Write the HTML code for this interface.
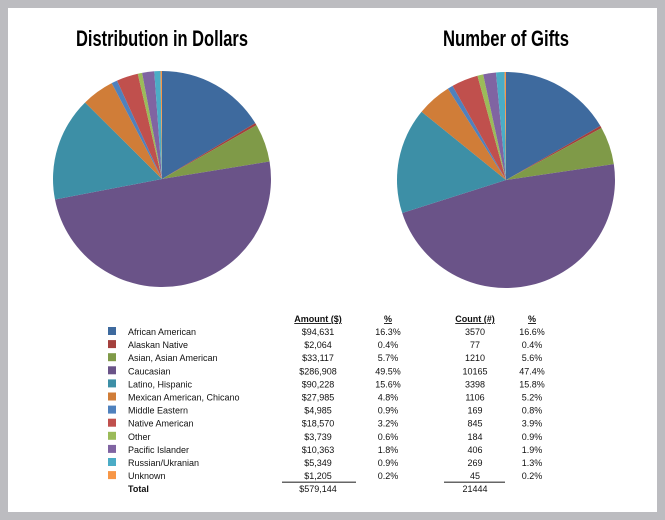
<!DOCTYPE html>
<html><head><meta charset="utf-8"><style>
body{margin:0;background:#bcbcc0;}
svg{display:block;font-family:"Liberation Sans",sans-serif;}
</style></head><body>
<svg width="665" height="520" viewBox="0 0 665 520">
<rect x="0" y="0" width="665" height="520" fill="#bcbcc0"/>
<rect x="8" y="8" width="649" height="504" fill="#ffffff"/>
<text x="162" y="46" text-anchor="middle" font-size="22" font-weight="bold" textLength="172" lengthAdjust="spacingAndGlyphs">Distribution in Dollars</text>
<text x="506" y="46" text-anchor="middle" font-size="22" font-weight="bold" textLength="126" lengthAdjust="spacingAndGlyphs">Number of Gifts</text>
<g id="pie1"></g>
<g id="pie2"></g>
<g id="table" font-size="9" fill="#111"></g>
</svg>
<script>
const categories=["African American","Alaskan Native","Asian, Asian American","Caucasian","Latino, Hispanic","Mexican American, Chicano","Middle Eastern","Native American","Other","Pacific Islander","Russian/Ukranian","Unknown"];
const amounts=[94631,2064,33117,286908,90228,27985,4985,18570,3739,10363,5349,1205];
const amountLabels=["$94,631","$2,064","$33,117","$286,908","$90,228","$27,985","$4,985","$18,570","$3,739","$10,363","$5,349","$1,205"];
const amountPct=["16.3%","0.4%","5.7%","49.5%","15.6%","4.8%","0.9%","3.2%","0.6%","1.8%","0.9%","0.2%"];
const counts=[3570,77,1210,10165,3398,1106,169,845,184,406,269,45];
const countPct=["16.6%","0.4%","5.6%","47.4%","15.8%","5.2%","0.8%","3.9%","0.9%","1.9%","1.3%","0.2%"];
const colors=["#3e6a9e","#a4403d","#7f9a48","#6a5388","#3d8fa6","#d07d38","#4f81bd","#c0504d","#9bbb59","#8064a2","#4bacc6","#f79646"];
const NS="http://www.w3.org/2000/svg";
function mk(tag,attrs,parent){const e=document.createElementNS(NS,tag);for(const k in attrs)e.setAttribute(k,attrs[k]);parent.appendChild(e);return e;}
function drawPie(g,vals,cx,cy,rx,ry,prefix){
  const tot=vals.reduce((a,b)=>a+b,0);let a=0;
  vals.forEach((v,i)=>{
    const a0=a/tot*2*Math.PI;a+=v;const a1=a/tot*2*Math.PI;
    const x0=cx+rx*Math.sin(a0),y0=cy-ry*Math.cos(a0),x1=cx+rx*Math.sin(a1),y1=cy-ry*Math.cos(a1);
    const large=(a1-a0)>Math.PI?1:0;
    const p=mk('path',{d:`M${cx},${cy}L${x0},${y0}A${rx},${ry} 0 ${large} 1 ${x1},${y1}Z`,fill:colors[i]},g);
    
    
  });
}
drawPie(document.getElementById('pie1'),amounts,162,179,109,108,'dollars');
drawPie(document.getElementById('pie2'),counts,506,180,109,108,'gifts');
const t=document.getElementById('table');
function txt(x,y,s,anchor,extra,name){const e=mk('text',Object.assign({x:x,y:y,'text-anchor':anchor||'start'},extra||{}),t);e.textContent=s;
  
  return e;}
txt(318,322,"Amount ($)","middle",{'font-weight':'bold','text-decoration':'underline'},'header-amount');
txt(388,322,"%","middle",{'font-weight':'bold','text-decoration':'underline'},'header-amount-pct');
txt(475,322,"Count (#)","middle",{'font-weight':'bold','text-decoration':'underline'},'header-count');
txt(532,322,"%","middle",{'font-weight':'bold','text-decoration':'underline'},'header-count-pct');
categories.forEach((c,i)=>{
  const y=335+i*13.1;
  const r=mk('rect',{x:108,y:y-8,width:8,height:8,fill:colors[i]},t);
  
  
  txt(128,y,c,'start',{},'legend-label');
  txt(318,y,amountLabels[i],'middle',{},'amount-value');
  txt(388,y,amountPct[i],'middle',{},'amount-pct');
  txt(475,y,String(counts[i]),'middle',{},'count-value');
  txt(532,y,countPct[i],'middle',{},'count-pct');
});
const ty=335+12*13.1;
const l1=mk('line',{x1:282,y1:ty-10,x2:356,y2:ty-10,stroke:'#333','stroke-width':1.2},t);


const l2=mk('line',{x1:444,y1:ty-10,x2:505,y2:ty-10,stroke:'#333','stroke-width':1.2},t);


txt(128,ty,"Total",'start',{'font-weight':'bold'},'total-label');
txt(318,ty,"$"+amounts.reduce((a,b)=>a+b,0).toLocaleString('en-US'),'middle',{},'total-amount');
txt(475,ty,String(counts.reduce((a,b)=>a+b,0)),'middle',{},'total-count');
</script>
</body></html>
